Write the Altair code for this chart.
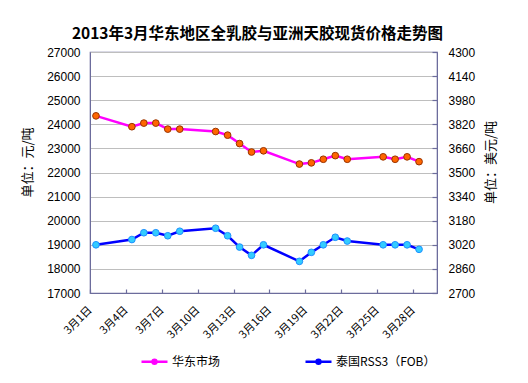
import altair as alt
import pandas as pd

days = [1, 4, 5, 6, 7, 8, 11, 12, 13, 14, 15, 18, 19, 20, 21, 22, 25, 26, 27, 28]
east = [24350, 23900, 24050, 24050, 23800, 23800, 23700, 23550, 23200, 22850,
        22900, 22350, 22400, 22550, 22700, 22550, 22650, 22550, 22650, 22450]
thai = [3020, 3055, 3100, 3100, 3080, 3110, 3130, 3080, 3005, 2950,
        3020, 2910, 2970, 3020, 3070, 3045, 3020, 3020, 3020, 2990]
series_names = ["华东市场", "泰国RSS3（FOB）"]
x_ticks = [0.5, 3.5, 6.5, 9.5, 12.5, 15.5, 18.5, 21.5, 24.5, 27.5]
left_ticks = [17000, 18000, 19000, 20000, 21000, 22000, 23000, 24000, 25000, 26000, 27000]
right_ticks = [2700, 2860, 3020, 3180, 3340, 3500, 3660, 3820, 3980, 4140, 4300]
title_text = "2013年3月华东地区全乳胶与亚洲天胶现货价格走势图"

df_e = pd.DataFrame({"day": days, "value": east, "series": series_names[0]})
df_t = pd.DataFrame({"day": days, "value": thai, "series": series_names[1]})

W, H = 347, 241
AX = "#6C6C9C"
FONT = "Liberation Sans"
CJK = "Noto Sans CJK SC"

xscale = alt.Scale(domain=[0.5, 29.5], nice=False, zero=False)
xenc = alt.X("day:Q", scale=xscale,
             axis=alt.Axis(values=x_ticks, orient="bottom",
                           labelExpr="'3月' + (datum.value + 0.5) + '日'",
                           labelAngle=315, labelAlign="right", labelBaseline="middle",
                           labelOverlap=False, labelBound=False, labelFlush=False,
                           ticks=False, grid=False, title=None, labelPadding=15,
                           labelFontSize=11, labelFont=CJK, domainColor=AX,
                           labelColor="#000000"))
xenc_na = alt.X("day:Q", scale=xscale, axis=None)
xenc_ticks = alt.X("day:Q", scale=xscale,
                   axis=alt.Axis(values=x_ticks, orient="bottom", labels=False,
                                 domain=False, grid=False, ticks=True, tickSize=4,
                                 tickColor=AX, tickWidth=1.2, offset=-4, title=None))

sym = "M-1,0H1M0.15,0A0.15,0.15 0 1,1 -0.15,0A0.15,0.15 0 1,1 0.15,0Z"
leg = dict(orient="none", legendX=50, legendY=295, direction="horizontal", title=None,
           symbolType=sym, symbolSize=676, symbolStrokeWidth=2.5, labelFontSize=12,
           labelFont=CJK, labelColor="#000000", columnPadding=79, labelOffset=3,
           padding=0)

stroke_enc = alt.Stroke("series:N",
                        scale=alt.Scale(domain=series_names, range=["#FF00FF", "#0000FF"]),
                        legend=alt.Legend(**leg))
fill_enc = alt.Fill("series:N",
                    scale=alt.Scale(domain=series_names, range=["#FF6600", "#33CCFF"]),
                    legend=alt.Legend(**leg))

yl_axis = alt.Axis(values=left_ticks, format="d", grid=True, gridColor="#BEBEBE",
                   orient="left",
                   ticks=False, domainColor=AX, labelPadding=10, labelFontSize=12,
                   labelFont=FONT, labelColor="#000000",
                   title="单位：元/吨", titleFont=CJK, titleFontSize=13,
                   titleFontWeight="normal", titleAngle=270, titleX=-63, titleY=110,
                   titleAlign="center", titleBaseline="middle")
yl = alt.Y("value:Q", scale=alt.Scale(domain=[17000, 27000], nice=False, zero=False),
           axis=yl_axis)

yr_axis = alt.Axis(values=right_ticks, format="d", grid=False, orient="right",
                   ticks=False, domainColor=AX, labelPadding=11, labelFontSize=12,
                   labelFont=FONT, labelColor="#000000",
                   title="单位：美元/吨", titleFont=CJK, titleFontSize=13,
                   titleFontWeight="normal", titleAngle=270, titleX=53, titleY=110,
                   titleAlign="center", titleBaseline="middle")
yr = alt.Y("value:Q", scale=alt.Scale(domain=[2700, 4300], nice=False, zero=False),
           axis=yr_axis)
yr_ticks = alt.Y("value:Q", scale=alt.Scale(domain=[2700, 4300], nice=False, zero=False),
                 axis=alt.Axis(values=right_ticks, orient="right", labels=False,
                               domain=False, grid=False, ticks=True, tickSize=5,
                               tickColor=AX, tickWidth=1.2, offset=-5, title=None))

e_line = alt.Chart(df_e).mark_line(strokeWidth=2.5).encode(x=xenc, y=yl, stroke=stroke_enc)
e_pt = alt.Chart(df_e).mark_point(filled=True, shape="circle", size=45, stroke="#993300",
                                  strokeWidth=1, opacity=1).encode(x=xenc, y=yl, fill=fill_enc)
t_line = alt.Chart(df_t).mark_line(strokeWidth=2.5).encode(x=xenc_na, y=yr, stroke=stroke_enc)
t_pt = alt.Chart(df_t).mark_point(filled=True, shape="circle", size=45, stroke="#1E90FF",
                                  strokeWidth=1, opacity=1).encode(x=xenc_na, y=yr, fill=fill_enc)
tick_layer = alt.Chart(df_t).mark_line(opacity=0).encode(x=xenc_ticks, y=yr_ticks)

left = alt.layer(e_line, e_pt)
right = alt.layer(t_line, t_pt)

chart = alt.layer(tick_layer, left, right).resolve_scale(y="independent").resolve_axis(
    x="independent").properties(
    width=W, height=H,
    autosize=alt.AutoSizeParams(type="none"),
    padding={"left": 82, "top": 44, "right": 83, "bottom": 82},
    title=alt.TitleParams(title_text, font=CJK, fontSize=15.5, fontWeight="bold",
                          anchor="middle", dx=-6, dy=5, offset=9, color="#000000"),
).configure_view(stroke=AX, strokeWidth=1.2)

chart.save("out.html", embed_options={"renderer": "svg", "actions": False})
